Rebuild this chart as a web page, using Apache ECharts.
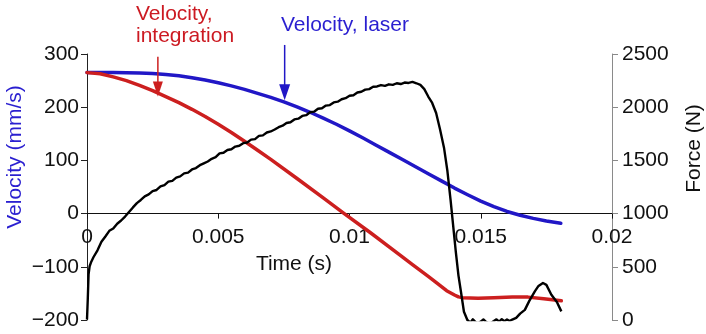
<!DOCTYPE html>
<html>
<head>
<meta charset="utf-8">
<script src="https://cdn.jsdelivr.net/npm/echarts@6/dist/echarts.min.js"></script>
<style>
html,body{margin:0;padding:0;background:#fff;}
#c{width:706px;height:334px;}
</style>
</head>
<body>
<div id="c"></div>
<script>
// ---- data (time in seconds) ----
const xTicks = [0, 0.005, 0.01, 0.015, 0.02];
const velTicks = [-200, -100, 0, 100, 200, 300];
const forceTicks = [0, 500, 1000, 1500, 2000, 2500];

const tLaser = [0, 0.001, 0.002, 0.0025, 0.003, 0.0035, 0.004, 0.0045, 0.005, 0.0055, 0.006, 0.0065, 0.007, 0.0075, 0.008, 0.0085, 0.009, 0.0095, 0.01, 0.0105, 0.011, 0.0115, 0.012, 0.0125, 0.013, 0.0135, 0.014, 0.0145, 0.015, 0.0155, 0.016, 0.0165, 0.017, 0.0175, 0.01805];
const vLaser = [265, 265, 264.5, 263.5, 261.5, 259, 255.5, 251, 246, 240, 233.5, 226, 218.5, 210, 200.5, 190.5, 179.5, 168, 155.5, 142.5, 129, 115.5, 102, 88.5, 75, 61.5, 48, 35.5, 23.5, 13, 4, -3, -9, -14, -18];

const tInteg = [0, 0.0005, 0.001, 0.0015, 0.002, 0.0025, 0.003, 0.0035, 0.004, 0.0045, 0.005, 0.0055, 0.006, 0.0065, 0.007, 0.008, 0.009, 0.0098, 0.0108, 0.0119, 0.0124, 0.013, 0.01337, 0.0137, 0.014, 0.01415, 0.0143, 0.0149, 0.0155, 0.0162, 0.0168, 0.0174, 0.01807];
const vInteg = [265, 263, 257, 250, 241, 231, 220, 208.5, 196, 182.5, 168, 152.5, 136, 119, 102, 66, 29.5, 0, -36, -77, -96, -118, -132, -145, -153, -156.5, -158, -159, -158, -157, -157, -160, -164];

const tForce = [0, 0.00003, 0.00006, 0.0001, 0.00015, 0.00025, 0.0004, 0.00055, 0.0007, 0.00085, 0.001, 0.00115, 0.0013, 0.00145, 0.0016, 0.00175, 0.0019, 0.00205, 0.0022, 0.00235, 0.0025, 0.00265, 0.0028, 0.00295, 0.0031, 0.00325, 0.0034, 0.00355, 0.0037, 0.00385, 0.004, 0.00415, 0.0043, 0.00445, 0.0046, 0.00475, 0.0049, 0.00505, 0.0052, 0.00535, 0.0055, 0.00565, 0.0058, 0.00595, 0.0061, 0.00625, 0.0064, 0.00655, 0.0067, 0.00685, 0.007, 0.00715, 0.0073, 0.00745, 0.0076, 0.00775, 0.0079, 0.00805, 0.0082, 0.00835, 0.0085, 0.00865, 0.0088, 0.00895, 0.0091, 0.00925, 0.0094, 0.00955, 0.0097, 0.00985, 0.01, 0.01015, 0.0103, 0.01045, 0.0106, 0.01075, 0.0109, 0.01105, 0.0112, 0.01135, 0.0115, 0.01165, 0.0118, 0.01195, 0.0121, 0.01225, 0.0124, 0.01255, 0.0127, 0.01285, 0.013, 0.01315, 0.0133, 0.01345, 0.0136, 0.01373, 0.01385, 0.01395, 0.01405, 0.01415, 0.01425, 0.01436, 0.01449, 0.0146, 0.0147, 0.0148, 0.0149, 0.015, 0.0151, 0.0152, 0.0153, 0.0154, 0.0155, 0.0156, 0.0157, 0.0158, 0.0159, 0.016, 0.0161, 0.0162, 0.01635, 0.0165, 0.01668, 0.01685, 0.01706, 0.0172, 0.01737, 0.0175, 0.01769, 0.0179, 0.01807];
const fForce = [5, 200, 430, 505, 540, 592, 655, 735, 785, 838, 860, 905, 935, 972, 1015, 1058, 1098, 1128, 1162, 1180, 1212, 1222, 1255, 1268, 1300, 1308, 1338, 1350, 1378, 1385, 1415, 1428, 1455, 1472, 1490, 1515, 1530, 1566, 1572, 1598, 1605, 1630, 1638, 1662, 1668, 1695, 1700, 1730, 1735, 1762, 1772, 1790, 1812, 1826, 1852, 1858, 1885, 1892, 1918, 1925, 1952, 1958, 1985, 1990, 2015, 2020, 2045, 2052, 2075, 2085, 2108, 2112, 2138, 2145, 2165, 2170, 2192, 2195, 2208, 2200, 2215, 2210, 2225, 2218, 2232, 2228, 2238, 2225, 2210, 2170, 2100, 2040, 1945, 1790, 1620, 1400, 1130, 885, 640, 420, 258, 78, 0, -25, 6, -20, -30, -15, 5, -18, -30, -25, -10, 6, -15, 8, -12, 5, -10, 4, 20, 60, 95, 180, 269, 320, 348, 330, 238, 170, 81];

// annotation arrows (data coordinates on the velocity axis)
const arrowInteg = { t: 0.0027, from: 295, to: 234 };
const arrowLaser = { t: 0.00753, from: 317, to: 228 };

const zip = (a, b) => a.map((v, i) => [v, b[i]]);
const FONT = '"Liberation Sans", Arial, sans-serif';
const BLUE = '#2117c6';
const RED = '#cc1f1f';
const BLUE_TXT = '#2a1fd0';
const RED_TXT = '#cc1a22';

function arrowSeries(a, color, size) {
  return {
    type: 'line', yAxisIndex: 0, clip: false, silent: true, animation: false,
    lineStyle: { color: color, width: 1.5 },
    itemStyle: { color: color },
    showSymbol: true,
    data: [
      { value: [a.t, a.from], symbol: 'none' },
      { value: [a.t, a.to], symbol: 'triangle', symbolRotate: 180, symbolSize: size }
    ],
    z: 5
  };
}

const chart = echarts.init(document.getElementById('c'), null, { renderer: 'canvas' });
const fmtMinus = v => String(v).replace('-', '\u2212');

chart.setOption({
  animation: false,
  backgroundColor: '#fff',
  grid: { left: 87, right: 94, top: 54, bottom: 14, containLabel: false, outerBoundsMode: 'none' },
  xAxis: {
    type: 'value', min: xTicks[0], max: xTicks[xTicks.length - 1], interval: 0.005,
    offset: 0,
    axisLine: { show: true, onZero: false, lineStyle: { color: '#111', width: 1 } },
    axisTick: { show: true, length: 5, lineStyle: { color: '#111' } },
    axisLabel: { margin: 13, fontSize: 21, fontFamily: FONT, color: '#111',
      formatter: v => String(+v.toFixed(3)), showMinLabel: true, showMaxLabel: true },
    splitLine: { show: false }
  },
  yAxis: [
    {
      type: 'value', position: 'left', min: velTicks[0], max: velTicks[velTicks.length - 1], interval: 100,
      axisLine: { show: true, lineStyle: { color: '#222', width: 1 } },
      axisTick: { show: true, length: 6, lineStyle: { color: '#222' } },
      axisLabel: { margin: 8, fontSize: 21, fontFamily: FONT, color: '#111', formatter: fmtMinus },
      splitLine: { show: false }
    },
    {
      type: 'value', position: 'right', min: forceTicks[0], max: forceTicks[forceTicks.length - 1], interval: 500,
      axisLine: { show: true, lineStyle: { color: '#8a8a8a', width: 1 } },
      axisTick: { show: true, length: 6, lineStyle: { color: '#8a8a8a' } },
      axisLabel: { margin: 10, fontSize: 21, fontFamily: FONT, color: '#111', formatter: v => String(v) },
      splitLine: { show: false }
    }
  ],
  series: [
    { name: 'Velocity, laser', type: 'line', yAxisIndex: 0, showSymbol: false, smooth: false,
      lineStyle: { color: BLUE, width: 3.5, join: 'round', cap: 'round' }, data: zip(tLaser, vLaser), z: 2 },
    { name: 'Velocity, integration', type: 'line', yAxisIndex: 0, showSymbol: false, smooth: false,
      lineStyle: { color: RED, width: 3.5, join: 'round', cap: 'round' }, data: zip(tInteg, vInteg), z: 2 },
    { name: 'Force', type: 'line', yAxisIndex: 1, showSymbol: false, clip: true,
      lineStyle: { color: '#000', width: 2.4, join: 'round' }, data: zip(tForce, fForce), z: 3 },
    arrowSeries(arrowInteg, RED, [10, 15]),
    arrowSeries(arrowLaser, BLUE, [11, 16])
  ],
  graphic: [
    { type: 'text', x: 15.5, y: 157, rotation: Math.PI / 2,
      style: { text: 'Velocity (mm/s)', fill: BLUE_TXT, font: '21px ' + FONT, align: 'center', verticalAlign: 'middle' } },
    { type: 'text', x: 694.5, y: 148.5, rotation: Math.PI / 2,
      style: { text: 'Force (N)', fill: '#111', font: '21px ' + FONT, align: 'center', verticalAlign: 'middle' } },
    { type: 'text', x: 294, y: 264.5,
      style: { text: 'Time (s)', fill: '#111', font: '21px ' + FONT, align: 'center', verticalAlign: 'middle' } },
    { type: 'text', x: 136, y: 14.5,
      style: { text: 'Velocity,', fill: RED_TXT, font: '21px ' + FONT, align: 'left', verticalAlign: 'middle' } },
    { type: 'text', x: 136, y: 36,
      style: { text: 'integration', fill: RED_TXT, font: '21px ' + FONT, align: 'left', verticalAlign: 'middle' } },
    { type: 'text', x: 281, y: 25.5,
      style: { text: 'Velocity, laser', fill: BLUE_TXT, font: '21px ' + FONT, align: 'left', verticalAlign: 'middle' } }
  ]
});

// move the time axis (line, ticks, labels) up to velocity = 0 using the axis scale
const yZero = chart.convertToPixel({ yAxisIndex: 0 }, 0);
const yBottom = chart.convertToPixel({ yAxisIndex: 0 }, velTicks[0]);
chart.setOption({ xAxis: { offset: yZero - yBottom } });
</script>
</body>
</html>
